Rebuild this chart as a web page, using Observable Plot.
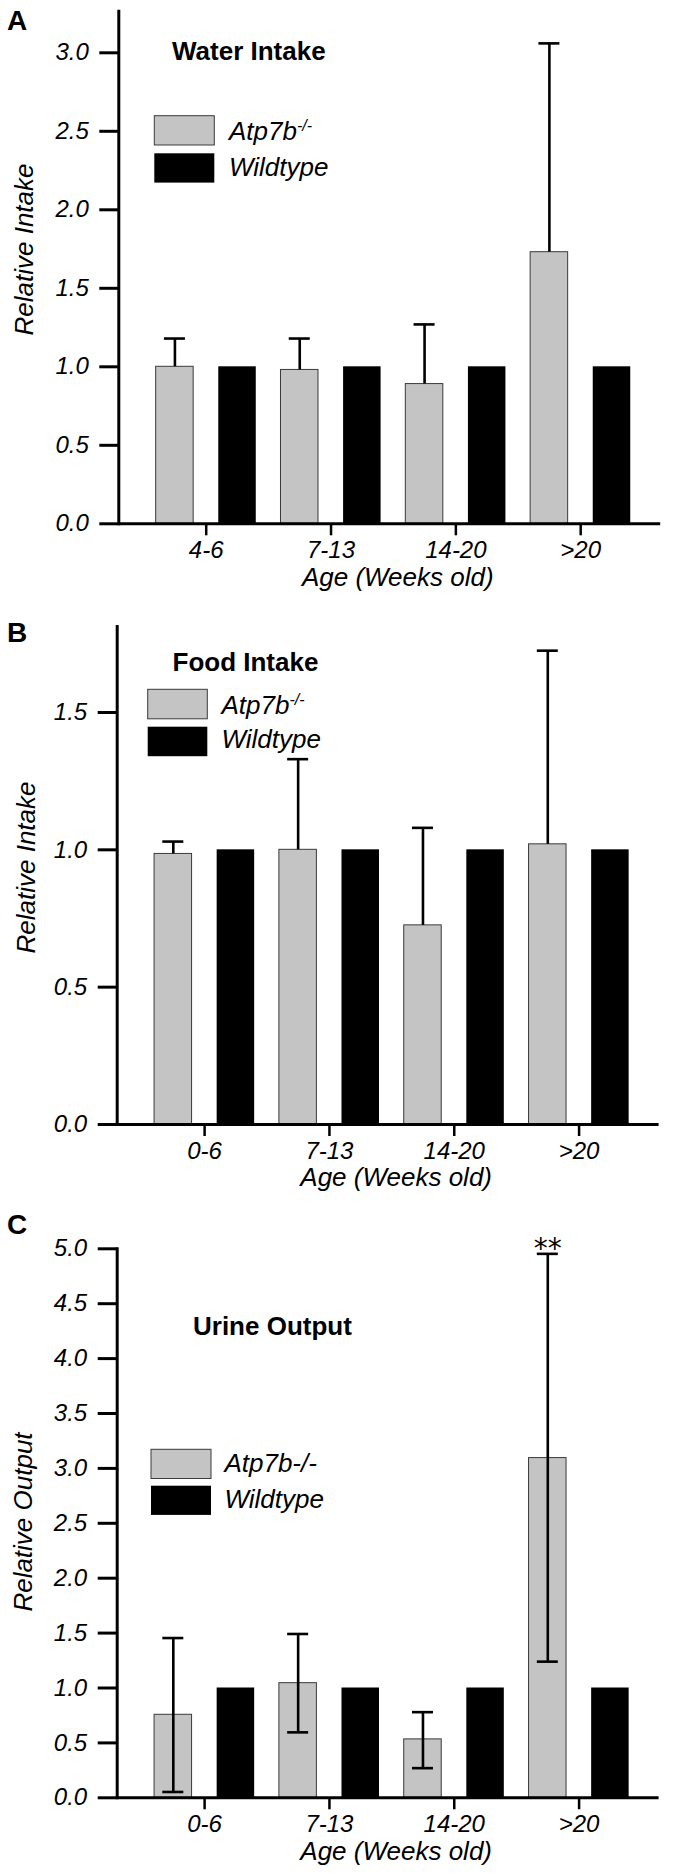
<!DOCTYPE html>
<html><head><meta charset="utf-8">
<script src="https://cdn.jsdelivr.net/npm/d3@7"></script>
<script src="https://cdn.jsdelivr.net/npm/@observablehq/plot@0.6"></script>
<style>
body{margin:0;background:#fff;}
#root{width:674px;}
.panel{position:relative;width:674px;}
.panel svg{display:block;}
</style></head><body><div id="root"></div>
<script>
// ---------- data ----------
const agesA = ["4-6", "7-13", "14-20", ">20"];
const agesBC = ["0-6", "7-13", "14-20", ">20"];

const waterAtp = [1.00, 0.98, 0.89, 1.73];
const waterAtpUpper = [1.18, 1.18, 1.27, 3.06];
const waterWt = [1, 1, 1, 1];

const foodAtp = [0.985, 1.00, 0.725, 1.02];
const foodAtpUpper = [1.03, 1.33, 1.08, 1.725];
const foodWt = [1, 1, 1, 1];

const urineAtp = [0.756, 1.044, 0.532, 3.094];
const urineAtpUpper = [1.455, 1.492, 0.78, 4.954];
const urineAtpLower = [0.053, 0.596, 0.27, 1.24];
const urineWt = [1, 1, 1, 1];
const urineSig = ["", "", "", "**"];

const yTicksA = [0, 0.5, 1, 1.5, 2, 2.5, 3];
const yTicksB = [0, 0.5, 1, 1.5];
const yTicksC = [0, 0.5, 1, 1.5, 2, 2.5, 3, 3.5, 4, 4.5, 5];
const yDomainA = [0, 3.265];
const yDomainB = [0, 1.813];
const yDomainC = [0, 5];

const seriesNames = ["Atp7b", "Wildtype"];
const xTitle = "Age (Weeks old)";

// ---------- layout / style ----------
const FONT = "'Liberation Sans', Arial, Helvetica, sans-serif";
const W = 674;
const AXIS_SPAN = 541.9;
const BAR_W = 37.5, OFFSET = 31.3, CAP_W = 21, PAD_OUTER = 0.1706, ALIGN = 0.587;
const GRAY = "#c4c4c4";

function panel(cfg) {
  const mL = cfg.axisX, mR = W - cfg.axisX - AXIS_SPAN;
  const step = AXIS_SPAN / (cfg.ages.length + 2 * PAD_OUTER);
  const barInset = (step - BAR_W) / 2;
  const capInset = (step - CAP_W) / 2;
  const rows = cfg.ages.map((age, i) => ({
    age,
    atp: cfg.atp[i],
    upper: cfg.upper[i],
    lower: cfg.lower ? cfg.lower[i] : cfg.atp[i],
    wt: cfg.wt[i],
    sig: cfg.sig ? cfg.sig[i] : ""
  }));
  const frameCY = (cfg.mT + (cfg.height - cfg.mB)) / 2;
  const marks = [
    Plot.barY(rows, {x: "age", y: "atp", fill: GRAY, stroke: "#3a3a3a", strokeWidth: 1,
      insetLeft: barInset, insetRight: barInset, dx: -OFFSET}),
    Plot.barY(rows, {x: "age", y: "wt", fill: "#000",
      insetLeft: barInset, insetRight: barInset, dx: OFFSET}),
    Plot.ruleX(rows, {x: "age", y1: "lower", y2: "upper", dx: -OFFSET, stroke: "#000", strokeWidth: 2.6}),
    Plot.tickY(rows, {x: "age", y: "upper", dx: -OFFSET, insetLeft: capInset, insetRight: capInset,
      stroke: "#000", strokeWidth: 2.6})
  ];
  if (cfg.lower) {
    marks.push(Plot.tickY(rows, {x: "age", y: "lower", dx: -OFFSET, insetLeft: capInset, insetRight: capInset,
      stroke: "#000", strokeWidth: 2.6}));
  }
  if (cfg.sig) {
    marks.push(Plot.text(rows, {x: "age", y: "upper", text: "sig", dx: -OFFSET, dy: -5,
      fontSize: 28, fontStyle: "normal", fontFamily: "DejaVu Sans", fill: "#000"}));
  }
  marks.push(
    Plot.axisY({ticks: cfg.yTicks, tickFormat: d3.format(".1f"), tickSize: 19, tickPadding: 11,
      strokeWidth: 3, fontSize: 24, label: null}),
    Plot.axisX({tickSize: 12, tickPadding: 5, strokeWidth: 2.5, fontSize: 24, label: null}),
    Plot.ruleY([0], {strokeWidth: 3}),
    Plot.frame({anchor: "left", strokeWidth: 3}),
    Plot.text([xTitle], {text: d => d, frameAnchor: "bottom", lineAnchor: "top", dy: 43.5, dx: 8, fontSize: 26}),
    Plot.text([cfg.yLabel], {text: d => d, frameAnchor: "left", textAnchor: "middle", rotate: -90,
      dx: cfg.yLabelX - mL, dy: cfg.yLabelY - frameCY, fontSize: 26})
  );
  const svg = Plot.plot({
    width: W, height: cfg.height,
    marginLeft: mL, marginRight: mR, marginTop: cfg.mT, marginBottom: cfg.mB,
    x: {domain: cfg.ages, paddingInner: 0, paddingOuter: PAD_OUTER, align: ALIGN, round: false, axis: null},
    y: {domain: cfg.yDomain, axis: null},
    style: {fontFamily: FONT, fontSize: "24px", fontStyle: "italic", color: "#000", background: "#fff", overflow: "visible"},
    marks
  });
  // panel letter, title and legend
  const g = d3.select(svg).append("g").attr("font-family", FONT).attr("fill", "#000").attr("text-anchor", "start");
  g.append("text").attr("x", 7).attr("y", cfg.letterY).attr("font-size", 28).attr("font-weight", "bold")
    .attr("font-style", "normal").text(cfg.letter);
  g.append("text").attr("x", cfg.titleX).attr("y", cfg.titleY).attr("font-size", 26).attr("font-weight", "bold")
    .attr("font-style", "normal").text(cfg.title);
  const L = cfg.legend;
  g.append("rect").attr("x", L.x).attr("y", L.y1).attr("width", L.w).attr("height", L.h)
    .attr("fill", GRAY).attr("stroke", "#3a3a3a").attr("stroke-width", 1);
  g.append("rect").attr("x", L.x).attr("y", L.y2).attr("width", L.w).attr("height", L.h).attr("fill", "#000");
  const t1 = g.append("text").attr("x", L.tx).attr("y", L.b1).attr("font-size", 26).attr("font-style", "italic");
  if (cfg.superscript) {
    t1.append("tspan").text(seriesNames[0]);
    t1.append("tspan").attr("dy", -9).attr("font-size", 16).text("-/-");
  } else {
    t1.text(seriesNames[0] + "-/-");
  }
  g.append("text").attr("x", L.tx).attr("y", L.b2).attr("font-size", 26).attr("font-style", "italic").text(seriesNames[1]);

  const div = document.createElement("div");
  div.className = "panel";
  div.style.height = cfg.height + "px";
  div.appendChild(svg);
  return div;
}

const root = document.getElementById("root");
root.appendChild(panel({
  letter: "A", letterY: 30, title: "Water Intake", titleX: 172, titleY: 60,
  ages: agesA, atp: waterAtp, upper: waterAtpUpper, wt: waterWt,
  yTicks: yTicksA, yDomain: yDomainA, yLabel: "Relative Intake", yLabelX: 24, yLabelY: 249,
  axisX: 118.3, height: 600, mT: 10.7, mB: 76.7, superscript: true,
  legend: {x: 154.3, y1: 115.7, y2: 153.3, w: 60, h: 29.3, tx: 229, b1: 140.3, b2: 175.8}
}));
root.appendChild(panel({
  letter: "B", letterY: 41.7, title: "Food Intake", titleX: 172.5, titleY: 71,
  ages: agesBC, atp: foodAtp, upper: foodAtpUpper, wt: foodWt,
  yTicks: yTicksB, yDomain: yDomainB, yLabel: "Relative Intake", yLabelX: 25.8, yLabelY: 267,
  axisX: 116.7, height: 600, mT: 26, mB: 76, superscript: true,
  legend: {x: 147.7, y1: 89.3, y2: 126.7, w: 59.6, h: 29.5, tx: 221.5, b1: 114.4, b2: 148}
}));
root.appendChild(panel({
  letter: "C", letterY: 34, title: "Urine Output", titleX: 193, titleY: 135,
  ages: agesBC, atp: urineAtp, upper: urineAtpUpper, lower: urineAtpLower, wt: urineWt, sig: urineSig,
  yTicks: yTicksC, yDomain: yDomainC, yLabel: "Relative Output", yLabelX: 23, yLabelY: 321.5,
  axisX: 116.7, height: 674, mT: 48.3, mB: 76.7, superscript: false,
  legend: {x: 151, y1: 249.3, y2: 285.7, w: 60, h: 29.2, tx: 224.4, b1: 272, b2: 307.6}
}));
</script></body></html>
